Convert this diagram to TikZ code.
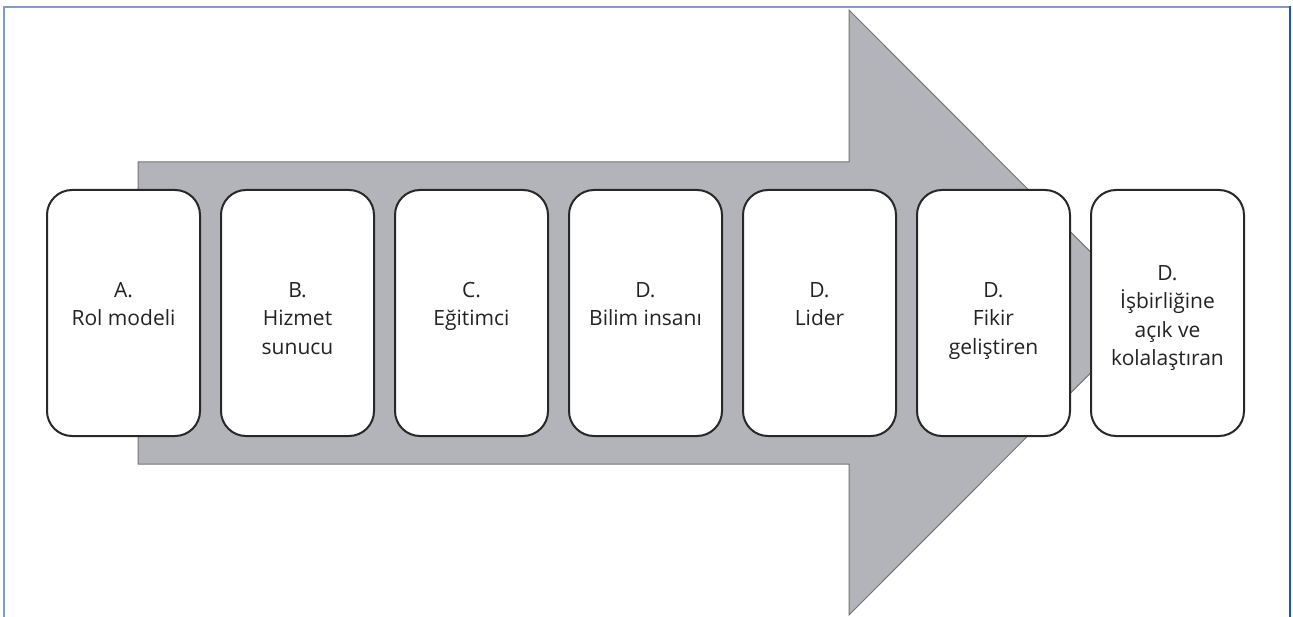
\documentclass[tikz,border=0pt]{standalone}
\usepackage{fontspec}
\setmainfont{Open Sans}
\begin{document}
\begin{tikzpicture}[x=1pt,y=-1pt,
  frameline/.style={line width=2pt},
  arrowbody/.style={fill=arrowgray,draw=arrowedge,line width=1pt,line join=miter},
  rolebox/.style={draw=boxedge,fill=white,line width=2pt,rounded corners=25pt,
    minimum width=153pt,minimum height=246pt,inner sep=0pt},
  roletext/.style={align=center,anchor=base,font=\fontsize{21pt}{28.3pt}\selectfont,
    text=textgray,inner sep=0pt}]
\definecolor{arrowgray}{RGB}{179,180,185}
\definecolor{arrowedge}{RGB}{115,116,120}
\definecolor{boxedge}{RGB}{40,40,40}
\definecolor{textgray}{RGB}{35,35,35}
\definecolor{frameleft}{RGB}{125,155,210}
\definecolor{frameright}{RGB}{30,85,185}
\useasboundingbox (0,0) rectangle (1293,617);
% page frame
\draw[frameline,frameleft] (3.5,617) -- (3.5,7) -- (1289,7);
\draw[frameline,frameright] (1290,6) -- (1290,617);
% big block arrow behind the boxes
\draw[arrowbody] (138,162) -- (849,162) -- (849,10) -- (1151,312.5)
  -- (849,615) -- (849,464) -- (138,464) -- cycle;
% role boxes
\foreach \i in {1,...,7}{
  \node[rolebox] (b\i) at ({123.5+174*(\i-1)},313) {};
}
% the base anchor sits on the last line of each label
\node[roletext] (t1) at (123.5,325.8) {A.\\Rol modeli};
\node[roletext] (t2) at (297.5,354.1) {B.\\Hizmet\\sunucu};
\node[roletext] (t3) at (471.5,325.8) {C.\\Eğitimci};
\node[roletext] (t4) at (645.5,325.8) {D.\\Bilim insanı};
\node[roletext] (t5) at (819.5,325.8) {D.\\Lider};
\node[roletext] (t6) at (993.5,354.1) {D.\\Fikir\\geliştiren};
\node[roletext] (t7) at (1167.5,365.4) {D.\\İşbirliğine\\açık ve\\kolalaştıran};
\end{tikzpicture}
\end{document}
